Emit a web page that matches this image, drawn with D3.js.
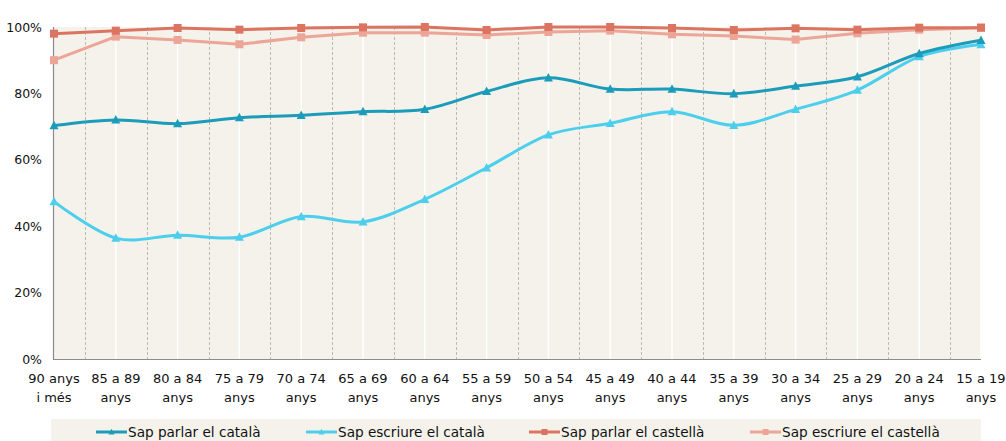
<!DOCTYPE html>
<html>
<head>
<meta charset="utf-8">
<script src="https://cdn.jsdelivr.net/npm/d3@7"></script>
<style>
  html, body { margin: 0; padding: 0; background: #ffffff; }
  svg { display: block; font-family: "DejaVu Sans", sans-serif; }
</style>
</head>
<body>
<svg id="chart" width="1006" height="441"></svg>
<script>
const categories = [
  ["90 anys", "i més"], ["85 a 89", "anys"], ["80 a 84", "anys"], ["75 a 79", "anys"],
  ["70 a 74", "anys"], ["65 a 69", "anys"], ["60 a 64", "anys"], ["55 a 59", "anys"],
  ["50 a 54", "anys"], ["45 a 49", "anys"], ["40 a 44", "anys"], ["35 a 39", "anys"],
  ["30 a 34", "anys"], ["25 a 29", "anys"], ["20 a 24", "anys"], ["15 a 19", "anys"]
];
const parlarCatala    = [70.3, 72.0, 70.9, 72.7, 73.4, 74.5, 75.2, 80.6, 84.7, 81.3, 81.3, 79.9, 82.2, 85.0, 92.0, 96.0];
const escriureCatala  = [47.4, 36.4, 37.3, 36.7, 42.9, 41.3, 48.1, 57.6, 67.5, 71.0, 74.5, 70.4, 75.2, 81.0, 91.1, 94.7];
const parlarCastella  = [98.0, 98.9, 99.7, 99.2, 99.7, 99.9, 100.0, 99.1, 100.0, 100.0, 99.7, 99.1, 99.6, 99.2, 99.8, 99.8];
const escriureCastella= [90.0, 97.1, 96.1, 94.8, 96.9, 98.3, 98.3, 97.6, 98.5, 98.9, 97.8, 97.3, 96.2, 98.1, 99.2, 99.8];
const yTicks = [0, 20, 40, 60, 80, 100];
const seriesNames = ["Sap parlar el català", "Sap escriure el català", "Sap parlar el castellà", "Sap escriure el castellà"];

const series = [
  { name: seriesNames[0], values: parlarCatala,     color: "#1b9cba", marker: "tri", smooth: true },
  { name: seriesNames[1], values: escriureCatala,   color: "#4ccfec", marker: "tri", smooth: true },
  { name: seriesNames[2], values: parlarCastella,   color: "#dc7462", marker: "sq",  smooth: false },
  { name: seriesNames[3], values: escriureCastella, color: "#eca597", marker: "sq",  smooth: false }
];

const svg = d3.select("#chart");
const pLeft = 54, pRight = 981, pTop = 27, pBottom = 359;

const x = d3.scalePoint().domain(d3.range(categories.length)).range([pLeft, pRight]);
const y = d3.scaleLinear().domain([0, 100]).range([pBottom, pTop]);
const step = x.step();

// plot background
svg.append("rect").attr("x", pLeft - 1).attr("y", pTop).attr("width", pRight - pLeft + 1).attr("height", pBottom - pTop)
  .attr("fill", "#f5f1eb");

// white solid lines at category positions
svg.append("g").selectAll("line").data(d3.range(1, categories.length)).join("line")
  .attr("x1", d => x(d)).attr("x2", d => x(d)).attr("y1", pTop).attr("y2", pBottom)
  .attr("stroke", "#ffffff").attr("stroke-width", 1.5);

// dashed grey lines at midpoints
svg.append("g").selectAll("line").data(d3.range(0, categories.length - 1)).join("line")
  .attr("x1", d => Math.round(x(d) + step / 2) + 0.5).attr("x2", d => Math.round(x(d) + step / 2) + 0.5)
  .attr("y1", pTop).attr("y2", pBottom)
  .attr("stroke", "#bdbab6").attr("stroke-width", 1).attr("stroke-dasharray", "3,2");

// axes lines
svg.append("line").attr("x1", pLeft - 0.5).attr("x2", pLeft - 0.5).attr("y1", pTop).attr("y2", pBottom + 0.5)
  .attr("stroke", "#8c8c8c").attr("stroke-width", 1.2);
svg.append("line").attr("x1", pLeft - 1).attr("x2", pRight).attr("y1", pBottom + 0.5).attr("y2", pBottom + 0.5)
  .attr("stroke", "#8c8c8c").attr("stroke-width", 1.2);

// y axis labels
const yAxis = d3.axisLeft(y).tickValues(yTicks).tickFormat(d => d + "%").tickSize(0).tickPadding(12);
const yg = svg.append("g").attr("transform", `translate(${pLeft},0)`).call(yAxis);
yg.select(".domain").remove();
yg.selectAll("text").attr("font-size", 12.5).attr("fill", "#111").attr("font-family", "DejaVu Sans, sans-serif");

// x axis labels
const xg = svg.append("g");
categories.forEach((c, i) => {
  const t = xg.append("text").attr("x", x(i)).attr("y", pBottom + 24).attr("text-anchor", "middle")
    .attr("font-size", 13).attr("fill", "#111");
  t.append("tspan").attr("x", x(i)).attr("dy", 0).text(c[0]);
  t.append("tspan").attr("x", x(i)).attr("dy", 19).text(c[1]);
});

// markers
function drawMarker(g, type, cx, cy, color, s) {
  if (type === "tri") {
    const h = s * 0.9;
    g.append("path").attr("d", `M${cx},${cy - h * 0.6}L${cx + s / 2},${cy + h * 0.45}L${cx - s / 2},${cy + h * 0.45}Z`)
      .attr("fill", color);
  } else {
    g.append("rect").attr("x", cx - s / 2).attr("y", cy - s / 2).attr("width", s).attr("height", s).attr("fill", color);
  }
}

const drawOrder = [3, 2, 1, 0];
drawOrder.forEach(si => {
  const s = series[si];
  const line = d3.line().x((d, i) => x(i)).y(d => y(d))
    .curve(s.smooth ? d3.curveCardinal.tension(0) : d3.curveLinear);
  const g = svg.append("g");
  g.append("path").datum(s.values).attr("d", line).attr("fill", "none")
    .attr("stroke", s.color).attr("stroke-width", 3).attr("stroke-linejoin", "round");
  s.values.forEach((v, i) => drawMarker(g, s.marker, x(i), y(v), s.color, s.marker === "tri" ? 9 : 8));
});

// legend
svg.append("rect").attr("x", 51).attr("y", 419).attr("width", 930).attr("height", 22).attr("fill", "#f5f1eb");
const legendX = [96, 306, 529, 750];
series.forEach((s, i) => {
  const g = svg.append("g");
  const lx = legendX[i], ly = 432;
  g.append("line").attr("x1", lx).attr("x2", lx + 31).attr("y1", ly).attr("y2", ly)
    .attr("stroke", s.color).attr("stroke-width", 3);
  drawMarker(g, s.marker, lx + 15.5, ly, s.color, 6);
  g.append("text").attr("x", lx + 32).attr("y", ly).attr("dy", "0.35em")
    .attr("font-size", 13.6).attr("fill", "#111").text(s.name);
});
</script>
</body>
</html>
